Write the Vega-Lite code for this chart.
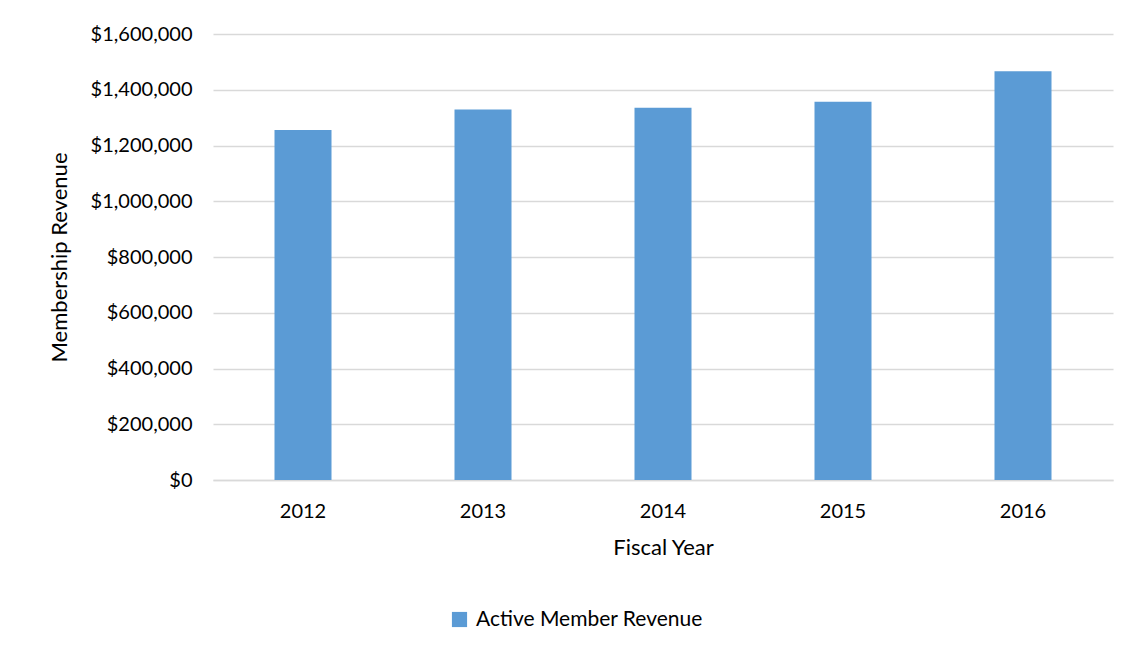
{
  "$schema": "https://vega.github.io/schema/vega-lite/v6.json",
  "width": 900,
  "height": 446,
  "autosize": {"type": "none"},
  "padding": {"left": 213, "top": 34, "right": 16, "bottom": 176},
  "background": "white",
  "data": {
    "values": [
      {"year": "2012", "revenue": 1256000, "series": "Active Member Revenue"},
      {"year": "2013", "revenue": 1329000, "series": "Active Member Revenue"},
      {"year": "2014", "revenue": 1335000, "series": "Active Member Revenue"},
      {"year": "2015", "revenue": 1357000, "series": "Active Member Revenue"},
      {"year": "2016", "revenue": 1466000, "series": "Active Member Revenue"}
    ]
  },
  "mark": {"type": "bar", "size": 57},
  "encoding": {
    "x": {
      "field": "year",
      "type": "nominal",
      "title": "Fiscal Year",
      "scale": {"paddingInner": 0.68, "paddingOuter": 0.34},
      "axis": {
        "labelAngle": 0,
        "ticks": false,
        "domainColor": "#d9d9d9",
        "domainWidth": 1.5,
        "labelPadding": 21,
        "labelFont": "Lato",
        "labelFontSize": 20,
        "labelColor": "#000000",
        "titleFont": "Lato",
        "titleFontSize": 22,
        "titleFontWeight": "normal",
        "titleColor": "#000000",
        "titlePadding": 16
      }
    },
    "y": {
      "field": "revenue",
      "type": "quantitative",
      "title": "Membership Revenue",
      "scale": {"domain": [0, 1600000]},
      "axis": {
        "values": [0, 200000, 400000, 600000, 800000, 1000000, 1200000, 1400000, 1600000],
        "format": "$,.0f",
        "ticks": false,
        "domain": false,
        "gridColor": "#d9d9d9",
        "gridWidth": 1.5,
        "labelPadding": 21,
        "labelFont": "Lato",
        "labelFontSize": 20,
        "labelColor": "#000000",
        "titleFont": "Lato",
        "titleFontSize": 22,
        "titleFontWeight": "normal",
        "titleColor": "#000000",
        "titlePadding": 19
      }
    },
    "color": {
      "field": "series",
      "type": "nominal",
      "scale": {"range": ["#5B9BD5"]},
      "legend": {
        "title": null,
        "orient": "none",
        "legendX": 236,
        "legendY": 575,
        "symbolType": "square",
        "symbolSize": 230,
        "symbolStrokeWidth": 0,
        "labelFont": "Lato",
        "labelFontSize": 21,
        "labelLimit": 400,
        "labelColor": "#000000",
        "labelOffset": 6
      }
    }
  },
  "config": {"view": {"stroke": null}}
}
